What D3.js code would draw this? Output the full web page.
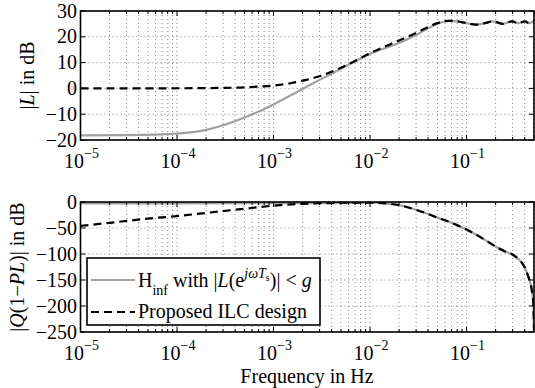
<!DOCTYPE html>
<html><head><meta charset="utf-8">
<script src="https://cdn.jsdelivr.net/npm/d3@7"></script>
<style>
html,body{margin:0;padding:0;background:#fff;}
svg text{font-family:"Liberation Serif","Times New Roman",serif;fill:#000;}
</style></head>
<body>
<svg id="c" width="535" height="388"></svg>
<script>
// ---------- data ----------
const xTickExps = [-5, -4, -3, -2, -1];
const yTicksTop = [-20, -10, 0, 10, 20, 30];
const yTicksBot = [-250, -200, -150, -100, -50, 0];
const legendLabels = ["H_inf with |L(e^{jωTs})| < g", "Proposed ILC design"];

// top: |L| in dB
const fTopHinf = [1e-5, 3e-5, 1e-4, 2e-4, 3e-4, 5e-4, 7e-4, 1e-3, 2e-3, 3e-3, 5e-3, 1e-2, 2e-2, 3e-2, 4e-2, 5e-2, 6.5e-2, 8e-2, 0.1, 0.125, 0.155, 0.188, 0.239, 0.296, 0.342, 0.404, 0.444, 0.5];
const topHinf  = [-18.2, -18.1, -17.5, -16.1, -14.3, -11.3, -9.0, -6.2, -0.2, 3.3, 7.6, 13.4, 17.6, 20.7, 23.3, 25.0, 26.2, 26.0, 25.3, 24.7, 25.3, 26.0, 25.0, 26.0, 25.2, 26.0, 25.3, 26.0];
const fTopILC  = [1e-5, 3e-5, 1e-4, 3e-4, 5e-4, 7e-4, 1e-3, 1.5e-3, 2e-3, 3e-3, 5e-3, 7e-3, 1e-2, 2e-2, 3e-2, 4e-2, 5e-2, 6.5e-2, 8e-2, 0.1, 0.125, 0.155, 0.188, 0.239, 0.296, 0.342, 0.404, 0.444, 0.5];
const topILC   = [0, 0, 0.05, 0.2, 0.4, 0.7, 1.1, 2.0, 3.0, 4.7, 8.0, 10.6, 13.6, 18.6, 21.5, 23.8, 25.3, 26.2, 26.0, 25.3, 24.7, 25.3, 26.0, 25.0, 26.0, 25.2, 26.0, 25.3, 26.0];

// bottom: |Q(1-PL)| in dB
const fBotHinf = [1e-5, 1e-4, 1e-3, 5e-3, 7e-3, 1e-2, 1.5e-2, 2e-2, 3e-2, 5e-2, 7e-2, 0.1, 0.138, 0.206, 0.25, 0.305, 0.35, 0.388, 0.437, 0.474, 0.492, 0.5];
const botHinf  = [-2.5, -2.5, -2.4, -2.0, -1.6, -1.4, -3.0, -6.0, -15, -30, -40, -53, -67, -87, -95, -102, -111, -121, -144, -169, -195, -245];
const fBotILC  = [1e-5, 2e-5, 5e-5, 1e-4, 2e-4, 5e-4, 1e-3, 2e-3, 3e-3, 5e-3, 7e-3, 1e-2, 1.5e-2, 2e-2, 3e-2, 5e-2, 7e-2, 0.1, 0.138, 0.206, 0.25, 0.305, 0.35, 0.388, 0.437, 0.474, 0.492, 0.5];
const botILC   = [-46, -40, -32, -27, -21, -13, -7, -3.5, -2.3, -1.5, -1.2, -1.3, -3.0, -6.0, -15, -30, -40, -53, -67, -87, -95, -102, -111, -121, -144, -169, -195, -245];

// ---------- layout ----------
const FS = 20;
const svg = d3.select("#c");
const X0 = 80.5, X1 = 534;
const x = d3.scaleLog().domain([1e-5, 0.5]).range([X0, X1]);
const panels = [
  {y: d3.scaleLinear().domain([-20, 30]).range([140, 11]), ticks: yTicksTop,
   series: [[fTopHinf, topHinf], [fTopILC, topILC]]},
  {y: d3.scaleLinear().domain([-250, 0]).range([332, 202]), ticks: yTicksBot,
   series: [[fBotHinf, botHinf], [fBotILC, botILC]]}
];
const styles = [
  {stroke: "#a0a0a0", width: 2.2, dash: null},
  {stroke: "#000", width: 2.2, dash: "8,5"}
];

const minorVals = [];
for (let e = -5; e <= -1; e++) for (let m = 1; m <= 9; m++) {
  const v = m * Math.pow(10, e);
  if (v <= 0.5 && v >= 1e-5) minorVals.push(v);
}

const fmt = v => (v < 0 ? "\u2212" + Math.abs(v) : "" + v);

panels.forEach((p, pi) => {
  const y = p.y;
  const [yb, yt] = y.range();
  const g = svg.append("g");
  // grid
  g.selectAll(".vg").data(minorVals).enter().append("line")
    .attr("x1", d => x(d)).attr("x2", d => x(d)).attr("y1", yt).attr("y2", yb)
    .attr("stroke", "#666").attr("stroke-width", 0.8).attr("stroke-dasharray", "1,3");
  g.selectAll(".hg").data(p.ticks).enter().append("line")
    .attr("x1", X0).attr("x2", X1).attr("y1", d => y(d)).attr("y2", d => y(d))
    .attr("stroke", "#666").attr("stroke-width", 0.8).attr("stroke-dasharray", "1,3");

  // curves
  const clipId = "clip" + pi;
  svg.append("clipPath").attr("id", clipId).append("rect")
    .attr("x", X0).attr("y", yt).attr("width", X1 - X0).attr("height", yb - yt);
  p.series.forEach(([fs, vs], si) => {
    const pts = fs.map((f, i) => [x(f), y(vs[i])]);
    const line = d3.line().curve(d3.curveMonotoneX);
    g.append("path").attr("d", line(pts)).attr("fill", "none")
      .attr("clip-path", `url(#${clipId})`)
      .attr("stroke", styles[si].stroke).attr("stroke-width", styles[si].width)
      .attr("stroke-dasharray", styles[si].dash);
  });

  // ticks (inward)
  const tk = g.append("g").attr("stroke", "#000").attr("stroke-width", 1);
  minorVals.forEach(v => {
    const major = Math.abs(Math.log10(v) - Math.round(Math.log10(v))) < 1e-9;
    const L = major ? 5 : 3;
    tk.append("line").attr("x1", x(v)).attr("x2", x(v)).attr("y1", yb).attr("y2", yb - L);
    tk.append("line").attr("x1", x(v)).attr("x2", x(v)).attr("y1", yt).attr("y2", yt + L);
  });
  p.ticks.forEach(v => {
    tk.append("line").attr("x1", X0).attr("x2", X0 + 5).attr("y1", y(v)).attr("y2", y(v));
    tk.append("line").attr("x1", X1).attr("x2", X1 - 5).attr("y1", y(v)).attr("y2", y(v));
  });

  // box
  g.append("rect").attr("x", X0).attr("y", yt).attr("width", X1 - X0).attr("height", yb - yt)
    .attr("fill", "none").attr("stroke", "#000").attr("stroke-width", 1.6);

  // y tick labels
  g.selectAll(".yl").data(p.ticks).enter().append("text")
    .attr("x", X0 - 3.5).attr("y", d => y(d) + 6.5).attr("text-anchor", "end")
    .attr("font-size", FS).text(fmt);

  // x tick labels
  xTickExps.forEach(e => {
    const t = g.append("text").attr("x", x(Math.pow(10, e)) + 1).attr("y", yb + 28)
      .attr("text-anchor", "middle").attr("font-size", FS);
    t.append("tspan").text("10");
    t.append("tspan").attr("font-size", 14).attr("dy", -10).text("\u2212" + Math.abs(e));
  });
});

// y labels
const yl1 = svg.append("text").attr("transform", "translate(34,75.5) rotate(-90)")
  .attr("text-anchor", "middle").attr("font-size", FS);
yl1.append("tspan").text("|");
yl1.append("tspan").attr("font-style", "italic").text("L");
yl1.append("tspan").text("| in dB");

const yl2 = svg.append("text").attr("transform", "translate(24,267) rotate(-90)")
  .attr("text-anchor", "middle").attr("font-size", FS);
yl2.append("tspan").text("|");
yl2.append("tspan").attr("font-style", "italic").text("Q");
yl2.append("tspan").text("(1\u2212");
yl2.append("tspan").attr("font-style", "italic").text("PL");
yl2.append("tspan").text(")| in dB");

// x label
svg.append("text").attr("x", 307).attr("y", 383).attr("text-anchor", "middle")
  .attr("font-size", FS).text("Frequency in Hz");

// legend
const lg = svg.append("g");
lg.append("rect").attr("x", 87).attr("y", 258).attr("width", 233).attr("height", 67)
  .attr("fill", "#fff").attr("stroke", "#000").attr("stroke-width", 1.6);
const rows = [280, 312];
rows.forEach((ry, i) => {
  lg.append("line").attr("x1", 91).attr("x2", 135).attr("y1", ry).attr("y2", ry)
    .attr("stroke", styles[i].stroke).attr("stroke-width", styles[i].width)
    .attr("stroke-dasharray", styles[i].dash);
});
// entry 1: H_inf with |L(e^{jωT_s})| < g
const t1 = lg.append("text").attr("x", 138).attr("y", 287).attr("font-size", FS);
t1.append("tspan").text("H");
t1.append("tspan").attr("font-size", 14).attr("dy", 8).text("inf");
t1.append("tspan").attr("dy", -8).text(" with |");
t1.append("tspan").attr("font-style", "italic").text("L");
t1.append("tspan").text("(e");
t1.append("tspan").attr("font-size", 14).attr("dy", -9).attr("font-style", "italic").text("j\u03C9T");
t1.append("tspan").attr("font-size", 10).attr("dy", 3).text("s");
t1.append("tspan").attr("dy", 6).text(")| < ");
t1.append("tspan").attr("font-style", "italic").text("g");
// entry 2
lg.append("text").attr("x", 138).attr("y", 318).attr("font-size", FS).text(legendLabels[1]);
</script>
</body></html>
